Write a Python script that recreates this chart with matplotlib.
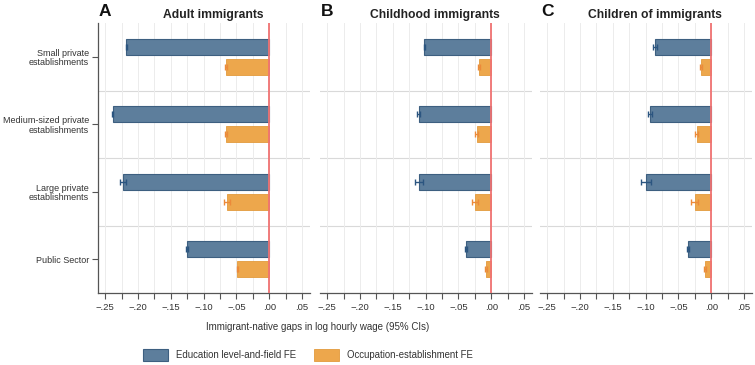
import matplotlib
matplotlib.use("Agg")
import matplotlib.pyplot as plt
import matplotlib.ticker as mticker
from matplotlib.patches import Patch
import numpy as np

plt.rcParams['font.family'] = ['Liberation Sans', 'DejaVu Sans']

# data
categories = ["Small private\nestablishments", "Medium-sized private\nestablishments",
              "Large private\nestablishments", "Public Sector"]
panel_letters = ["A", "B", "C"]
panel_titles = ["Adult immigrants", "Childhood immigrants", "Children of immigrants"]

edu_fe = [[-0.218, -0.2385, -0.223, -0.1255],
          [-0.1018, -0.1105, -0.1095, -0.038],
          [-0.0863, -0.0934, -0.100, -0.0355]]
edu_ci = [[0.001, 0.001, 0.005, 0.001],
          [0.0015, 0.002, 0.006, 0.0015],
          [0.003, 0.003, 0.0075, 0.002]]
occ_fe = [[-0.0655, -0.0664, -0.065, -0.0486],
          [-0.019, -0.0224, -0.0255, -0.0076],
          [-0.0157, -0.0223, -0.0253, -0.0101]]
occ_ci = [[0.0015, 0.0015, 0.0045, 0.001],
          [0.002, 0.002, 0.0045, 0.0015],
          [0.002, 0.002, 0.0055, 0.0015]]

legend_labels = ["Education level-and-field FE", "Occupation-establishment FE"]
xticks = [-0.25, -0.20, -0.15, -0.10, -0.05, 0.00, 0.05]

blue = '#5d7e9c'
blue_edge = '#3d5f80'
blue_err = '#2b5580'
orange = '#eda74c'
orange_edge = '#e39a3c'
orange_err = '#ec8a3a'
red = '#f07272'

W, H = 755, 365
fig = plt.figure(figsize=(W / 100, H / 100), dpi=100)

lefts = [98, 320, 540]
width = 212
top, bottom = 23, 293

def fmt(v, pos):
    s = '%.2f' % v
    s = s.replace('0.', '.')
    if s.startswith('-'):
        s = '\u2212' + s[1:]
    if s == '\u2212.00':
        s = '.00'
    return s

y = np.arange(len(categories))
off = 0.15
h = 0.24

for i in range(3):
    ax = fig.add_axes([lefts[i] / W, 1 - bottom / H, width / W, (bottom - top) / H])
    ax.set_xlim(-0.261, 0.062)
    ax.set_ylim(3.5, -0.5)

    # grid
    for g in [0.5, 1.5, 2.5]:
        ax.axhline(g, color='#d9d9d9', lw=0.8, zorder=0)
    for gx in np.arange(-0.25, 0.051, 0.025):
        ax.axvline(gx, color='#ececec', lw=0.7, zorder=0)

    ax.barh(y - off, edu_fe[i], height=h, color=blue, edgecolor=blue_edge, lw=0.8, zorder=2)
    ax.barh(y + off, occ_fe[i], height=h, color=orange, edgecolor=orange_edge, lw=0.6, zorder=2)
    ax.errorbar(edu_fe[i], y - off, xerr=edu_ci[i], fmt='none', ecolor=blue_err,
                elinewidth=1.0, capsize=2.2, capthick=1.0, zorder=3)
    ax.errorbar(occ_fe[i], y + off, xerr=occ_ci[i], fmt='none', ecolor=orange_err,
                elinewidth=1.0, capsize=2.2, capthick=1.0, zorder=3)
    ax.axvline(0, color=red, lw=1.3, zorder=4)

    ax.set_xticks(xticks)
    ax.xaxis.set_minor_locator(mticker.MultipleLocator(0.025))
    ax.xaxis.set_major_formatter(mticker.FuncFormatter(fmt))
    ax.tick_params(axis='x', which='both', length=4, width=0.8, color='#555555',
                   labelsize=6.8, labelcolor='#333333', pad=3)

    for s in ['top', 'right']:
        ax.spines[s].set_visible(False)
    ax.spines['bottom'].set_color('#555555')
    ax.spines['bottom'].set_linewidth(0.9)
    if i == 0:
        ax.spines['left'].set_color('#555555')
        ax.spines['left'].set_linewidth(0.9)
        ax.set_yticks(y)
        ax.set_yticklabels(categories, fontsize=6.5, color='#333333', linespacing=1.05)
        ax.tick_params(axis='y', length=4, width=0.8, color='#555555', pad=2.5)
    else:
        ax.spines['left'].set_visible(False)
        ax.set_yticks([])

    fig.text((lefts[i] + width / 2 + 9) / W, 1 - 15 / H, panel_titles[i],
             ha='center', va='center', fontsize=8.7, fontweight='bold', color='#222222')
    fig.text((lefts[i] + 1) / W, 1 - 11 / H, panel_letters[i],
             ha='left', va='center', fontsize=12.5, fontweight='bold', color='#111111')

fig.text(318 / W, 1 - 327 / H, "Immigrant-native gaps in log hourly wage (95% CIs)",
         ha='center', va='center', fontsize=7.0, color='#333333')

handles = [Patch(facecolor=blue, edgecolor=blue_edge, lw=0.8),
           Patch(facecolor=orange, edgecolor=orange_edge, lw=0.6)]
fig.legend(handles, legend_labels, loc='center', bbox_to_anchor=(308 / W, 1 - 355 / H),
           ncol=2, frameon=False, fontsize=6.9, handlelength=2.6, handleheight=1.45,
           handletextpad=0.83, columnspacing=1.9, labelcolor='#333333')

fig.savefig('out.png', dpi=100)
